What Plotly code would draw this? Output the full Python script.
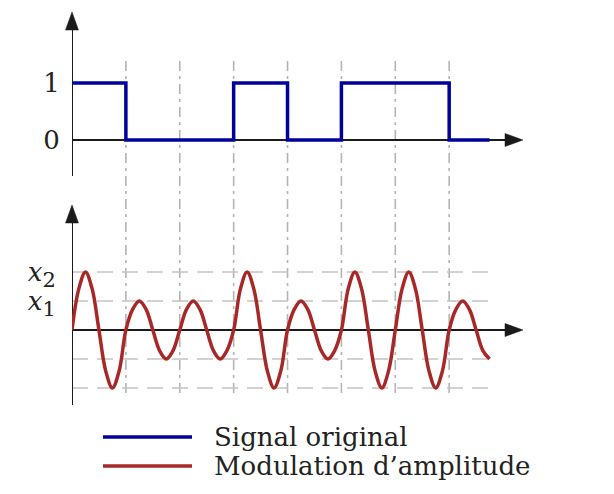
import plotly.graph_objects as go

# ---- data ----
# original binary signal (step function), time in bit periods
square_t = [0, 1, 2, 3, 4, 5, 6, 7, 7.75]
square_y = [1, 0, 0, 1, 0, 1, 1, 0, 0]

# amplitude-modulated signal read every 1/8 bit period (x1 = 1, x2 = 2)
am_t = [0, 0.125, 0.25, 0.375, 0.5, 0.625, 0.75, 0.875,
        1, 1.125, 1.25, 1.375, 1.5, 1.625, 1.75, 1.875,
        2, 2.125, 2.25, 2.375, 2.5, 2.625, 2.75, 2.875,
        3, 3.125, 3.25, 3.375, 3.5, 3.625, 3.75, 3.875,
        4, 4.125, 4.25, 4.375, 4.5, 4.625, 4.75, 4.875,
        5, 5.125, 5.25, 5.375, 5.5, 5.625, 5.75, 5.875,
        6, 6.125, 6.25, 6.375, 6.5, 6.625, 6.75, 6.875,
        7, 7.125, 7.25, 7.375, 7.5, 7.625, 7.75]
am_y = [0, 1.41, 2, 1.41, 0, -1.41, -2, -1.41,
        0, 0.71, 1, 0.71, 0, -0.71, -1, -0.71,
        0, 0.71, 1, 0.71, 0, -0.71, -1, -0.71,
        0, 1.41, 2, 1.41, 0, -1.41, -2, -1.41,
        0, 0.71, 1, 0.71, 0, -0.71, -1, -0.71,
        0, 1.41, 2, 1.41, 0, -1.41, -2, -1.41,
        0, 1.41, 2, 1.41, 0, -1.41, -2, -1.41,
        0, 0.71, 1, 0.71, 0, -0.71, -1]

bit_boundaries = [1, 2, 3, 4, 5, 6, 7]
am_levels = [-2, -1, 1, 2]
top_ticks = [0, 1]
top_ticktext = ["0", "1"]
bot_ticks = [1, 2]
bot_ticktext = ['<i>x</i><sub><span style="font-size:21px">1</span></sub>',
                '<i>x</i><sub><span style="font-size:21px">2</span></sub>']
series_names = ["Signal original", "Modulation d\u2019amplitude"]

BLUE = "#00009b"
RED = "#a82828"
AXIS = "#1a1a1a"
GRID = "#b4b4b4"
FONT = "DejaVu Serif"

W, H = 614, 494
X_MAX = 8.37
T_END = 7.75
top_range = [-0.632, 2.246]
bot_range = [-2.586, 4.31]
AXIS_X_PX = 72
TOP_TIP_PX = 12
BOT_TIP_PX = 205


def px_x(p):
    return p / W


def px_y(p):
    return (H - p) / H


fig = go.Figure()
fig.add_trace(go.Scatter(
    x=square_t, y=square_y, mode="lines", name=series_names[0],
    line=dict(color=BLUE, width=3.5, shape="hv"),
    xaxis="x", yaxis="y", showlegend=False, hoverinfo="skip"))
fig.add_trace(go.Scatter(
    x=am_t, y=am_y, mode="lines", name=series_names[1],
    line=dict(color=RED, width=3.5, shape="spline", smoothing=1.0),
    xaxis="x2", yaxis="y2", showlegend=False, hoverinfo="skip"))

shapes = []
# vertical dash-dot lines at bit boundaries spanning both panels
for t in bit_boundaries:
    shapes.append(dict(type="line", xref="x", yref="paper", x0=t, x1=t,
                       y0=px_y(393), y1=px_y(57), layer="below",
                       line=dict(color=GRID, width=1.6, dash="10px,5px,3px,5px")))
# horizontal dashed levels in bottom panel
for lv in am_levels:
    shapes.append(dict(type="line", xref="x2", yref="y2", x0=0, x1=T_END,
                       y0=lv, y1=lv, layer="below",
                       line=dict(color="#c4c4c4", width=1.6, dash="16px,9px")))
# axis lines (below traces)
shapes += [
    dict(type="line", xref="x", yref="y", x0=0, x1=X_MAX - 0.2, y0=0, y1=0,
         layer="below", line=dict(color=AXIS, width=2)),
    dict(type="line", xref="x", yref="y", x0=0, x1=0, y0=top_range[0], y1=top_range[1] - 0.2,
         layer="below", line=dict(color=AXIS, width=2)),
    dict(type="line", xref="x2", yref="y2", x0=0, x1=X_MAX - 0.2, y0=0, y1=0,
         layer="below", line=dict(color=AXIS, width=2)),
    dict(type="line", xref="x2", yref="y2", x0=0, x1=0, y0=bot_range[0], y1=bot_range[1] - 0.4,
         layer="below", line=dict(color=AXIS, width=2)),
]
# arrowheads at axis ends (pixel-sized paths anchored at the axis tips)
right_head = "M 0 0 L -18 6.5 L -18 -6.5 Z"
up_head = "M 0 0 L -6.5 -18 L 6.5 -18 Z"
for xr, yr, xa, ya, p in [("x", "y", X_MAX, 0, right_head),
                          ("paper", "paper", px_x(AXIS_X_PX), px_y(TOP_TIP_PX), up_head),
                          ("x2", "y2", X_MAX, 0, right_head),
                          ("paper", "paper", px_x(AXIS_X_PX), px_y(BOT_TIP_PX), up_head)]:
    shapes.append(dict(type="path", xref=xr, yref=yr, xsizemode="pixel", ysizemode="pixel",
                       xanchor=xa, yanchor=ya, path=p, fillcolor=AXIS,
                       line=dict(color=AXIS, width=0.5)))
# legend lines
shapes += [
    dict(type="line", xref="paper", yref="paper", x0=px_x(103), x1=px_x(192),
         y0=px_y(437), y1=px_y(437), line=dict(color=BLUE, width=3.5)),
    dict(type="line", xref="paper", yref="paper", x0=px_x(103), x1=px_x(192),
         y0=px_y(466), y1=px_y(466), line=dict(color=RED, width=3.5)),
]

annotations = [
    dict(x=px_x(212), y=px_y(437), xref="paper", yref="paper", text=series_names[0],
         showarrow=False, xanchor="left", yanchor="middle",
         font=dict(family=FONT, size=26, color="#222222")),
    dict(x=px_x(212), y=px_y(466), xref="paper", yref="paper", text=series_names[1],
         showarrow=False, xanchor="left", yanchor="middle",
         font=dict(family=FONT, size=26, color="#222222")),
]

xdom = [px_x(AXIS_X_PX), px_x(523)]
common_x = dict(domain=xdom, range=[0, X_MAX], visible=False, fixedrange=True)
fig.update_layout(
    width=W, height=H,
    margin=dict(l=0, r=0, t=0, b=0),
    paper_bgcolor="white", plot_bgcolor="rgba(0,0,0,0)",
    showlegend=False,
    xaxis=dict(anchor="y", **common_x),
    xaxis2=dict(anchor="y2", **common_x),
    yaxis=dict(domain=[px_y(176), px_y(TOP_TIP_PX)], range=top_range, anchor="x",
               tickvals=top_ticks, ticktext=top_ticktext, showgrid=False,
               zeroline=False, showline=False, ticks="outside", ticklen=6,
               tickcolor="rgba(0,0,0,0)", fixedrange=True,
               tickfont=dict(family=FONT, size=26, color="#222222")),
    yaxis2=dict(domain=[px_y(405), px_y(BOT_TIP_PX)], range=bot_range, anchor="x2",
                tickvals=bot_ticks, ticktext=bot_ticktext, showgrid=False,
                zeroline=False, showline=False, ticks="outside", ticklen=10,
                tickcolor="rgba(0,0,0,0)", fixedrange=True,
                tickfont=dict(family=FONT, size=26, color="#222222")),
    shapes=shapes,
    annotations=annotations,
)

fig.write_html("out.html", config={"displayModeBar": False},
               post_script="document.body.style.margin='0';")
